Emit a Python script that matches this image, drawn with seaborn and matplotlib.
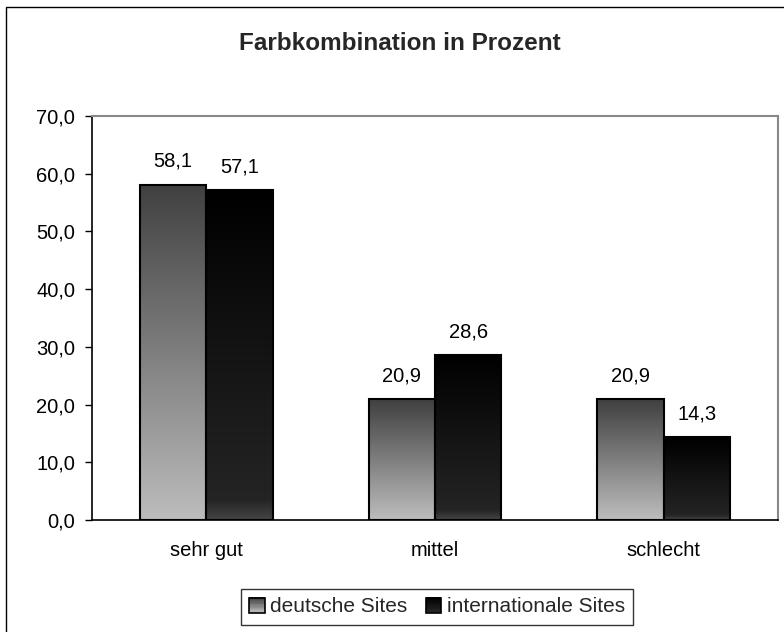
import numpy as np
import pandas as pd
import matplotlib
matplotlib.use("Agg")
import matplotlib.pyplot as plt
import matplotlib.patches as mpatches
from matplotlib.colors import LinearSegmentedColormap
from matplotlib.legend_handler import HandlerBase
import seaborn as sns

# Ratings of the colour combination, in percent
categories = ["sehr gut", "mittel", "schlecht"]
deutsche = [58.1, 20.9, 20.9]
international = [57.1, 28.6, 14.3]
series = ["deutsche Sites", "internationale Sites"]
y_ticks = [0, 10, 20, 30, 40, 50, 60, 70]

df = pd.DataFrame({
    "Kategorie": categories * 2,
    "Wert": deutsche + international,
    "Gruppe": [series[0]] * 3 + [series[1]] * 3,
})

sns.set_theme(style="white")
plt.rcParams["font.family"] = ["Liberation Sans", "DejaVu Sans"]

FS = 14.5
W, H = 784, 632
fig = plt.figure(figsize=(W / 100, H / 100), dpi=100)
ax = fig.add_axes([92 / W, 1 - 520 / H, (778 - 92) / W, (520 - 116) / H])

sns.barplot(data=df, x="Kategorie", y="Wert", hue="Gruppe", order=categories,
            hue_order=series, palette=["#999999", "#222222"], width=0.58,
            gap=0, dodge=True, ax=ax, legend=False, saturation=1)

# vertical gradients for each series (bottom -> top)
cmaps = [
    LinearSegmentedColormap.from_list("de", [(0, "#bdbdbd"), (1, "#404040")]),
    LinearSegmentedColormap.from_list("int", [(0, "#444444"), (0.06, "#242424"),
                                              (0.5, "#141414"), (1, "#000000")]),
]
grad = np.linspace(0, 1, 256).reshape(-1, 1)
n = len(categories)
for i, bar in enumerate(ax.patches[: 2 * n]):
    s = i // n
    x0, y0 = bar.get_x(), bar.get_y()
    w, h = bar.get_width(), bar.get_height()
    img = ax.imshow(grad, cmap=cmaps[s], origin="lower", aspect="auto",
                    extent=[x0, x0 + w, y0, y0 + h], zorder=bar.get_zorder(),
                    interpolation="bilinear")
    img.set_clip_path(bar)
    bar.set_facecolor("none")
    bar.set_edgecolor("black")
    bar.set_linewidth(1.5)
    bar.set_zorder(bar.get_zorder() + 0.5)

ax.set_xlim(-0.5, n - 0.5)
ax.set_ylim(0, 70)

# value labels with German decimal comma
for c in ax.containers:
    ax.bar_label(c, labels=[f"{v:.1f}".replace(".", ",") for v in c.datavalues],
                 padding=10, fontsize=FS, color="black")

ax.set_yticks(y_ticks)
ax.set_yticklabels([f"{v:.1f}".replace(".", ",") for v in y_ticks], fontsize=FS)
ax.set_xticks(range(n))
ax.set_xticklabels(categories, fontsize=FS)
ax.set_xticks([0.5, 1.5, 2.5], minor=True)
ax.tick_params(axis="x", which="major", length=0, pad=15, colors="black")
ax.tick_params(axis="x", which="minor", length=5, width=1, color="black", direction="out")
ax.tick_params(axis="y", length=5, width=1, color="black", direction="out", pad=7,
               left=True, labelcolor="black")
ax.set_xlabel("")
ax.set_ylabel("")

for side in ["top", "right"]:
    ax.spines[side].set_visible(True)
    ax.spines[side].set_color("#888888")
    ax.spines[side].set_linewidth(1.5)
for side in ["left", "bottom"]:
    ax.spines[side].set_visible(True)
    ax.spines[side].set_color("black")
    ax.spines[side].set_linewidth(1.2)

fig.text(400 / W, 1 - 44 / H, "Farbkombination in Prozent", ha="center", va="center",
         fontsize=17.5, fontweight="bold")


class GradientSquare(HandlerBase):
    """Legend key drawn as a small square with the series' gradient."""

    def __init__(self, cmap):
        super().__init__()
        self.cmap = cmap

    def create_artists(self, legend, orig_handle, xdescent, ydescent, width, height,
                       fontsize, trans):
        side = min(width, height)
        x0 = -xdescent + (width - side) / 2
        y0 = -ydescent + (height - side) / 2
        steps = 12
        arts = []
        for k in range(steps):
            arts.append(mpatches.Rectangle((x0, y0 + side * k / steps), side, side / steps + 0.3,
                                           facecolor=self.cmap(k / (steps - 1)),
                                           edgecolor="none", transform=trans))
        arts.append(mpatches.Rectangle((x0, y0), side, side, facecolor="none",
                                       edgecolor="black", lw=1.2, transform=trans))
        return arts


handles = [mpatches.Patch(), mpatches.Patch()]
handler_map = {handles[0]: GradientSquare(cmaps[0]), handles[1]: GradientSquare(cmaps[1])}
leg = fig.legend(handles, series, handler_map=handler_map, loc="center",
                 bbox_to_anchor=(437 / W, 1 - 607 / H), ncol=2, fontsize=15,
                 frameon=True, fancybox=False, edgecolor="black",
                 handlelength=0.75, handleheight=0.75, handletextpad=0.25,
                 columnspacing=0.9, borderpad=0.4, borderaxespad=0)
leg.get_frame().set_linewidth(1.0)

# outer chart frame
fig.patches.append(mpatches.Rectangle((6 / W, -0.1), 1.2, 1 - 7 / H + 0.1,
                                      transform=fig.transFigure, fill=False,
                                      edgecolor="black", lw=1.0, figure=fig))

fig.savefig("out.png", dpi=100, facecolor="white")
